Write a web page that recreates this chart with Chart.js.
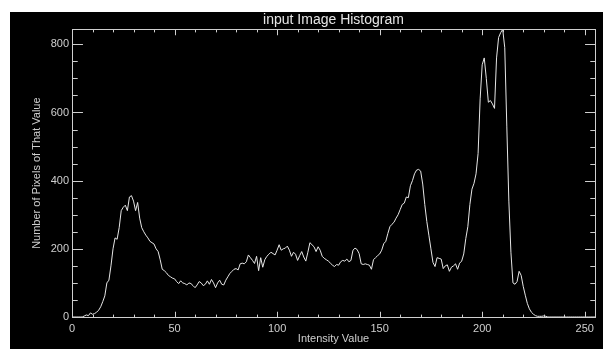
<!DOCTYPE html>
<html>
<head>
<meta charset="utf-8">
<script src="https://cdn.jsdelivr.net/npm/chart.js@4"></script>
<style>
html,body{margin:0;padding:0;background:#fff;}
#wrap{position:absolute;left:10px;top:12px;width:593px;height:337px;background:#000;}
</style>
</head>
<body>
<div id="wrap"><canvas id="histo" width="593" height="337"></canvas></div>
<script>
// histogram counts, one per intensity 0..255
const counts = [
  0,0,0,0,0,0,
  3,6,4,12,8,10,14,20,30,45,
  62,100,108,150,200,232,228,262,312,322,
  328,312,352,356,340,312,336,290,262,250,
  240,232,222,218,214,200,192,168,140,136,
  130,122,118,114,112,104,98,106,100,98,
  94,100,98,92,86,94,104,100,92,96,
  106,96,110,100,86,100,108,96,94,108,
  118,128,134,140,142,138,156,158,156,162,
  182,174,166,157,178,136,174,146,168,178,
  184,190,186,182,196,212,196,200,202,208,
  196,178,190,184,166,180,192,176,164,190,
  218,212,206,192,206,196,178,172,168,164,
  158,152,148,154,152,162,166,164,170,162,
  166,196,202,198,186,156,154,156,154,152,
  140,168,174,180,185,196,215,222,245,265,
  272,278,290,300,315,330,334,352,350,385,
  400,420,431,433,428,390,330,280,240,200,
  160,148,174,172,170,142,150,153,134,146,
  150,156,140,158,164,185,230,265,330,375,
  392,420,480,640,740,760,700,630,635,625,
  612,760,820,834,844,790,560,340,190,100,
  96,104,134,122,90,64,40,24,14,8,
  4,2,2,2,3,2,0,0,0,0,
  0,0,0,0,0,0,0,0,0,0,
  0,0,0,0,0,0,0,0,0,0
];
const xTicks = [0,50,100,150,200,250];
const yTicks = [0,200,400,600,800];
const xMax = 255;
const yMax = 844;

const fg = '#e6e6e6';
const axisColor = '#cfcfcf';
const labelFont = {family:'"Liberation Sans", Arial, sans-serif', size:11};

// IDL-like box with inward major/minor ticks on all four sides
const frame = {
  id:'frame',
  afterDraw(chart){
    const {ctx, chartArea:a, scales:{x,y}} = chart;
    const L = Math.round(a.left)+0.5, R = Math.round(a.right)+0.5;
    const T = Math.round(a.top)+0.5, B = Math.round(a.bottom)+0.5;
    const xLen = (B-T)*0.02, yLen = (R-L)*0.02;
    ctx.save();
    ctx.strokeStyle = axisColor;
    ctx.lineWidth = 1;
    ctx.strokeRect(L, T, R-L, B-T);
    ctx.beginPath();
    for(let v=0; v<=xMax; v+=10){
      const px = Math.round(x.getPixelForValue(v))+0.5;
      const len = v%50===0 ? xLen : xLen/2;
      ctx.moveTo(px,B); ctx.lineTo(px,B-len);
      ctx.moveTo(px,T); ctx.lineTo(px,T+len);
    }
    for(let v=0; v<=yMax; v+=50){
      const py = Math.round(y.getPixelForValue(v))+0.5;
      const len = v%200===0 ? yLen : yLen/2;
      ctx.moveTo(L,py); ctx.lineTo(L+len,py);
      ctx.moveTo(R,py); ctx.lineTo(R-len,py);
    }
    ctx.stroke();
    ctx.restore();
  }
};

new Chart(document.getElementById('histo'), {
  type:'line',
  data:{
    datasets:[{
      data: counts.map((c,i)=>({x:i, y:c})),
      borderColor: fg,
      borderWidth: 1,
      pointRadius: 0,
      tension: 0,
      fill: false
    }]
  },
  options:{
    responsive:false,
    animation:false,
    devicePixelRatio:1,
    layout:{padding:{left:0,right:8,top:0,bottom:0}},
    plugins:{
      legend:{display:false},
      tooltip:{enabled:false},
      title:{
        display:true,
        text:'input Image Histogram',
        color:fg,
        fullSize:false,
        font:{family:labelFont.family, size:14, weight:'normal'},
        padding:{top:0,bottom:0.5}
      }
    },
    scales:{
      x:{
        type:'linear', min:0, max:xMax,
        grid:{display:false, drawTicks:false},
        border:{display:false},
        ticks:{color:axisColor, font:labelFont, padding:5, maxRotation:0, autoSkip:false, includeBounds:false},
        afterBuildTicks:s=>{ s.ticks = xTicks.map(v=>({value:v})); },
        afterFit:s=>{ s.height = 32; },
        title:{display:true, text:'Intensity Value', color:axisColor, font:labelFont, padding:{top:0,bottom:3}}
      },
      y:{
        type:'linear', min:0, max:yMax,
        grid:{display:false, drawTicks:false},
        border:{display:false},
        ticks:{color:axisColor, font:labelFont, padding:3, includeBounds:false},
        afterBuildTicks:s=>{ s.ticks = yTicks.map(v=>({value:v})); },
        afterFit:s=>{ s.width = 62; },
        title:{display:true, text:'Number of Pixels of That Value', color:axisColor, font:labelFont, padding:{top:20,bottom:0}}
      }
    }
  },
  plugins:[frame]
});
</script>
</body>
</html>
